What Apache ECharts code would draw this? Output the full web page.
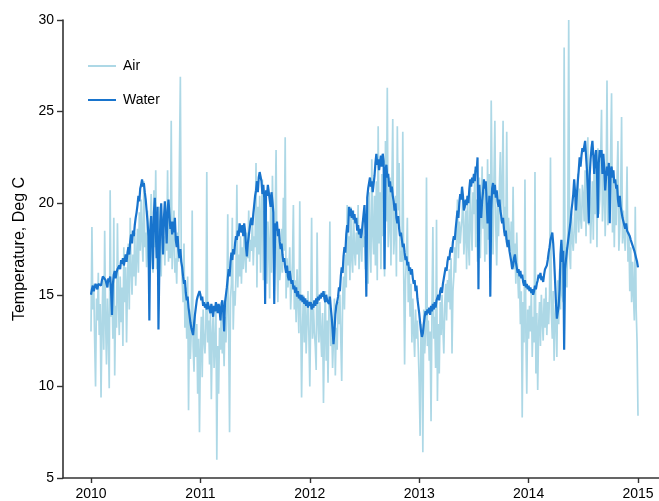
<!DOCTYPE html>
<html><head><meta charset="utf-8">
<script src="https://cdn.jsdelivr.net/npm/echarts@6/dist/echarts.min.js"></script>
<style>html,body{margin:0;padding:0;background:#fff}#c{width:659px;height:501px}</style>
</head><body><div id="c"></div>
<script>
// Sampling: 10 readings per month, starting 2010-01-01
const startYear = 2010;
const pointsPerYear = 120;
const yearTicks = [2010, 2011, 2012, 2013, 2014, 2015];
const seriesNames = ['Air', 'Water'];

const air2010 = [
13.0,18.7,14.2,15.6,12.5,10.0,14.8,13.6,16.2,12.8,
14.5,9.4,13.2,15.8,12.0,18.5,13.6,11.2,14.8,13.0,
9.9,20.7,13.8,15.2,12.6,19.2,10.6,14.4,13.2,18.9,
14.8,12.8,16.0,13.5,15.4,12.2,17.6,14.6,16.5,12.4,
15.6,17.8,14.2,19.2,16.4,15.0,17.2,16.0,18.4,15.5,
17.0,18.6,16.2,19.5,17.4,20.2,18.0,16.8,21.2,17.6,
18.4,16.5,19.6,17.2,15.8,18.8,20.5,17.0,16.2,20.7,
17.6,21.8,16.4,18.5,15.4,19.8,17.2,16.0,19.0,17.8,
18.2,16.6,19.5,17.4,21.8,16.8,18.6,17.0,24.5,16.4,
17.8,19.6,16.2,17.0,15.6,18.4,16.8,22.2,26.9,17.2,
15.8,14.6,17.8,13.2,15.4,12.6,16.0,8.7,14.2,11.5,
13.0,19.6,12.2,10.8,14.0,11.6,13.4,9.6,12.6,7.5];
const air2011 = [
12.0,13.8,10.5,14.2,12.6,11.8,13.2,21.7,12.4,13.6,
11.2,14.0,9.3,12.8,13.9,11.0,12.4,14.4,6.0,12.2,
9.6,13.2,12.0,14.6,11.8,13.0,11.1,13.8,12.4,14.2,
19.4,13.0,7.5,14.8,15.6,19.2,13.1,15.2,14.4,16.0,
21.0,15.4,17.2,16.0,18.2,15.6,17.6,16.4,18.8,17.0,
16.2,18.4,17.0,19.6,16.8,18.0,17.4,19.2,16.6,18.2,
17.6,22.2,15.4,19.8,17.2,20.4,16.2,19.4,21.3,15.8,
19.6,16.2,20.4,15.6,19.0,17.8,14.8,19.8,16.2,21.5,
18.4,15.2,19.0,22.9,16.6,14.6,18.2,15.8,16.4,18.6,
16.2,20.3,17.4,23.6,14.8,17.0,15.4,16.2,17.6,14.2,
15.6,16.8,19.9,14.2,15.8,13.5,16.4,14.6,12.9,20.1,
14.0,9.4,13.2,15.0,12.4,14.6,11.8,13.6,15.2,12.8];
const air2012 = [
10.0,13.8,19.2,12.6,14.4,13.0,12.2,10.9,18.4,13.6,
12.4,14.6,13.0,11.6,14.0,9.1,12.8,15.2,11.4,13.6,
10.2,14.4,19.0,12.2,13.4,11.0,12.6,14.8,10.6,13.2,
12.0,14.6,13.4,15.0,12.6,10.3,14.8,16.0,14.2,17.2,
15.4,19.9,16.6,18.2,15.8,19.8,17.0,16.2,19.6,17.4,
16.6,18.4,17.2,19.9,16.4,17.8,18.6,16.8,19.0,17.6,
18.2,16.4,17.6,19.4,15.6,20.6,18.0,16.2,22.4,18.4,
17.2,20.4,16.6,21.2,15.8,24.2,17.8,20.6,16.4,21.6,
18.2,19.4,16.0,23.4,19.0,26.3,17.6,18.8,21.4,16.6,
20.8,24.6,17.2,18.4,20.4,16.0,24.2,19.6,22.2,16.8,
17.4,16.8,23.9,16.2,11.2,15.8,17.0,19.2,14.6,16.4,
13.8,15.6,12.4,14.8,13.0,11.6,14.2,12.6,13.6,12.0];
const air2013 = [
10.2,7.3,13.4,12.6,6.4,14.2,11.8,13.0,21.4,12.2,
13.6,11.4,13.0,8.1,14.2,18.7,12.6,13.8,11.0,19.1,
9.2,13.4,10.7,14.6,12.8,15.0,13.2,11.8,14.4,15.6,
13.6,15.8,14.6,16.4,14.2,17.0,11.8,15.2,16.0,17.6,
16.2,18.4,20.2,17.0,19.0,17.8,18.6,19.2,20.5,17.2,
18.2,19.6,16.4,20.4,17.8,16.6,21.2,19.0,17.4,20.6,
19.4,21.8,17.6,20.2,16.8,18.2,21.4,17.0,19.2,22.0,
18.6,21.2,16.8,20.6,17.2,22.4,18.0,21.6,16.4,25.6,
20.4,17.2,21.2,24.5,18.8,16.6,19.8,18.2,21.0,22.8,
19.0,20.6,24.5,18.4,19.8,18.0,23.9,17.6,19.2,18.2,
17.4,19.0,16.6,20.9,16.4,17.8,15.6,18.4,16.2,14.8,
16.0,13.4,15.2,8.3,14.6,12.4,21.3,13.0,9.6,14.2];
const air2014 = [
12.6,14.4,13.0,15.2,11.6,13.8,12.4,21.7,10.7,14.0,
9.8,13.2,14.6,12.2,15.0,13.6,12.5,14.8,13.2,15.4,
12.8,14.6,13.4,15.0,22.5,14.0,12.6,15.2,11.4,13.8,
14.6,11.6,15.8,13.4,16.4,14.2,17.8,15.0,14.6,28.5,
16.2,17.6,15.4,18.8,30.0,17.2,16.4,19.6,18.0,17.4,
18.6,20.2,17.8,19.4,21.6,18.4,20.8,19.2,18.6,21.0,
20.4,19.0,21.8,18.2,22.0,23.6,18.8,21.4,17.8,19.6,
21.2,18.0,22.6,19.4,21.8,17.6,23.0,19.4,20.2,22.4,
25.1,19.0,20.4,22.2,18.2,20.6,26.7,18.8,21.6,19.8,
22.6,26.0,18.4,21.8,17.6,20.8,18.8,21.2,23.4,17.4,
18.6,20.4,24.7,17.8,19.6,18.2,17.4,19.0,22.0,16.8,
18.4,15.2,17.6,14.6,16.8,15.0,13.6,19.8,14.2,12.4];
const airLast = [8.4];

const water2010 = [
15.0,15.3,15.5,15.2,15.4,15.6,15.5,15.3,15.6,15.5,
15.7,15.5,15.8,16.0,15.9,16.1,15.8,15.6,15.4,15.9,
15.7,16.0,15.2,13.9,15.6,16.1,16.3,15.9,16.2,16.4,
16.3,16.6,16.4,16.9,16.7,17.0,16.6,16.9,17.2,16.8,
17.3,17.6,17.2,17.9,18.3,17.8,18.5,18.2,18.8,19.2,
19.5,19.9,20.4,20.1,20.8,21.0,21.3,20.9,21.1,20.6,
20.2,19.6,19.0,18.2,13.6,18.5,19.3,18.0,16.4,19.5,
20.3,18.6,17.0,19.8,13.1,16.6,19.0,20.0,18.4,17.2,
19.2,20.1,19.0,17.8,19.6,20.2,19.4,18.6,19.0,18.3,
19.0,18.4,19.2,18.0,17.6,18.2,17.4,17.0,17.5,16.8,
16.5,16.0,15.6,15.8,15.1,14.7,14.9,14.3,13.9,13.5,
13.2,13.0,12.8,13.4,13.9,14.3,14.7,14.9,15.0,15.2];
const water2011 = [
15.0,14.7,14.9,14.4,14.6,14.3,14.5,14.2,14.6,14.4,
14.3,14.0,14.5,14.2,13.8,14.4,14.1,14.6,14.3,14.0,
14.5,14.2,13.6,14.4,14.7,14.1,13.0,14.6,15.0,15.4,
15.9,16.4,16.0,16.8,17.3,16.9,17.5,17.2,17.8,18.2,
18.0,18.5,18.2,18.9,18.6,18.4,18.8,18.2,18.9,18.5,
17.6,17.1,17.8,18.2,18.6,19.0,19.2,18.8,19.4,19.9,
20.4,20.7,21.2,20.6,21.4,21.7,21.8,21.2,20.5,21.0,
20.3,14.5,20.7,20.4,21.0,21.1,20.2,19.8,20.6,20.1,
19.5,14.5,18.9,18.5,19.0,18.2,18.6,17.9,17.5,17.8,
17.2,16.8,17.0,16.5,16.2,16.6,16.0,15.8,16.3,15.9,
15.6,15.8,15.3,15.5,15.1,15.4,14.9,15.2,14.8,15.0,
14.7,15.0,14.6,14.9,14.5,14.8,14.4,14.7,14.3,14.6];
const water2012 = [
14.4,14.6,14.2,14.5,14.3,14.7,14.4,14.8,14.5,14.9,
14.7,15.0,14.8,15.1,14.9,15.2,14.8,14.6,15.0,14.7,
14.8,14.5,14.9,14.3,13.8,13.1,12.3,13.0,13.9,14.4,
14.6,14.9,15.4,15.2,16.0,16.5,16.2,17.1,17.6,17.3,
18.3,18.8,18.4,19.8,19.3,19.7,19.2,19.6,19.1,19.4,
18.9,19.2,18.5,18.8,18.3,18.6,18.1,18.4,18.9,19.4,
19.9,18.6,14.9,20.3,20.8,21.1,21.4,20.9,21.2,20.6,
20.7,21.5,22.2,22.7,22.1,22.4,21.8,22.2,22.6,22.0,
22.7,22.3,16.4,21.8,22.1,21.4,21.6,20.9,21.2,20.6,
20.9,20.4,20.1,19.6,20.0,19.2,18.9,19.3,18.6,18.2,
18.4,18.0,17.6,17.8,17.3,16.9,17.1,16.6,16.8,16.3,
16.5,16.1,16.4,15.9,15.6,15.8,15.2,15.5,14.8,14.4];
const water2013 = [
14.0,13.5,13.0,12.7,12.9,13.4,13.8,14.1,13.9,14.2,
14.0,14.3,13.9,14.4,14.1,14.5,14.2,14.6,14.3,14.7,
14.8,15.0,14.7,15.2,15.4,15.1,15.6,15.9,16.2,16.5,
16.3,16.8,17.1,16.9,17.4,17.6,17.3,17.9,18.2,18.0,
18.6,19.1,19.6,19.2,20.0,20.5,20.2,20.9,20.4,19.6,
19.8,20.2,19.9,20.4,20.0,20.8,21.3,20.9,21.4,21.1,
21.6,21.2,22.0,21.7,22.5,15.3,21.0,19.8,19.2,20.1,
20.6,21.3,20.8,21.2,20.1,18.9,19.5,20.4,14.9,19.6,
20.8,21.1,20.5,21.0,20.3,20.7,20.1,19.8,20.2,19.6,
19.3,18.9,19.2,18.6,18.2,18.5,17.9,17.6,18.0,17.4,
17.1,16.8,16.4,16.6,17.0,17.2,16.8,16.5,16.2,16.4,
16.0,16.3,15.9,16.1,15.7,15.5,15.8,15.4,15.6,15.3];
const water2014 = [
15.5,15.2,15.4,15.1,15.3,15.0,15.2,15.5,15.3,15.6,
15.8,16.1,15.9,16.2,15.8,16.0,15.7,16.1,16.4,16.3,
16.6,16.9,17.3,17.6,18.0,18.2,18.4,17.8,16.9,15.8,
14.6,13.7,13.6,14.4,15.3,17.2,18.0,16.8,17.4,12.0,
16.4,16.9,17.4,17.8,18.2,18.6,19.0,19.6,20.0,20.5,
21.3,20.6,19.6,20.5,21.2,21.8,22.5,22.0,22.6,23.0,
22.8,23.1,23.4,22.6,21.8,20.7,18.9,21.5,22.4,23.0,
23.4,22.6,21.6,22.4,22.9,21.8,19.2,22.2,22.9,22.5,
22.9,21.6,22.7,21.9,20.7,21.4,22.0,21.5,22.2,18.9,
21.8,22.0,21.4,21.8,21.1,21.3,20.8,21.0,20.2,19.8,
20.4,19.8,19.5,19.2,19.0,18.8,18.6,18.9,18.5,18.6,
18.4,18.2,18.0,17.9,17.7,17.6,17.4,17.3,17.0,16.8];
const waterLast = [16.5];

const airValues = [].concat(air2010, air2011, air2012, air2013, air2014, airLast);
const waterValues = [].concat(water2010, water2011, water2012, water2013, water2014, waterLast);
const toPairs = vals => vals.map((v, i) => [startYear + i / pointsPerYear, v]);

const font = "'Liberation Sans', Arial, Helvetica, sans-serif";
const axisColor = '#333';
const lineIcon = 'path://M0,0H28V2H0Z';
const chart = echarts.init(document.getElementById('c'));
chart.setOption({
  animation: false,
  backgroundColor: '#fff',
  textStyle: { fontFamily: font },
  grid: { left: 63, right: 0, top: 20, bottom: 23, containLabel: false },
  legend: {
    orient: 'vertical', left: 83, top: 54,
    itemWidth: 28, itemHeight: 14, itemGap: 20,
    symbolKeepAspect: true,
    data: [{ name: seriesNames[0], icon: lineIcon }, { name: seriesNames[1], icon: lineIcon }],
    textStyle: { fontSize: 14, color: '#000', fontFamily: font, padding: [0, 0, 0, 2] }
  },
  xAxis: {
    type: 'value', min: 2009.744, max: 2015.192,
    splitLine: { show: false },
    axisLine: { show: true, onZero: false, lineStyle: { color: axisColor, width: 1.6 } },
    axisTick: { show: true, length: 5, customValues: yearTicks, lineStyle: { color: axisColor, width: 1.4 } },
    axisLabel: { customValues: yearTicks, fontSize: 14, color: '#000', margin: 9, fontFamily: font,
      formatter: v => String(Math.round(v)) }
  },
  yAxis: {
    type: 'value', min: 5, max: 30, interval: 5,
    name: 'Temperature, Deg C', nameLocation: 'middle', nameGap: 35,
    nameTextStyle: { fontSize: 16, color: '#000', fontFamily: font },
    splitLine: { show: false },
    axisLine: { show: true, onZero: false, lineStyle: { color: axisColor, width: 1.6 } },
    axisTick: { show: true, length: 6, lineStyle: { color: axisColor, width: 1.4 } },
    axisLabel: { fontSize: 14, color: '#000', margin: 9, fontFamily: font }
  },
  series: [
    { name: seriesNames[0], type: 'line', data: toPairs(airValues), symbol: 'none', showSymbol: false,
      lineStyle: { color: '#add8e6', width: 1.7 }, itemStyle: { color: '#add8e6' }, z: 1 },
    { name: seriesNames[1], type: 'line', data: toPairs(waterValues), symbol: 'none', showSymbol: false,
      lineStyle: { color: '#1874cd', width: 2.2 }, itemStyle: { color: '#1874cd' }, z: 2 }
  ]
});
</script></body></html>
